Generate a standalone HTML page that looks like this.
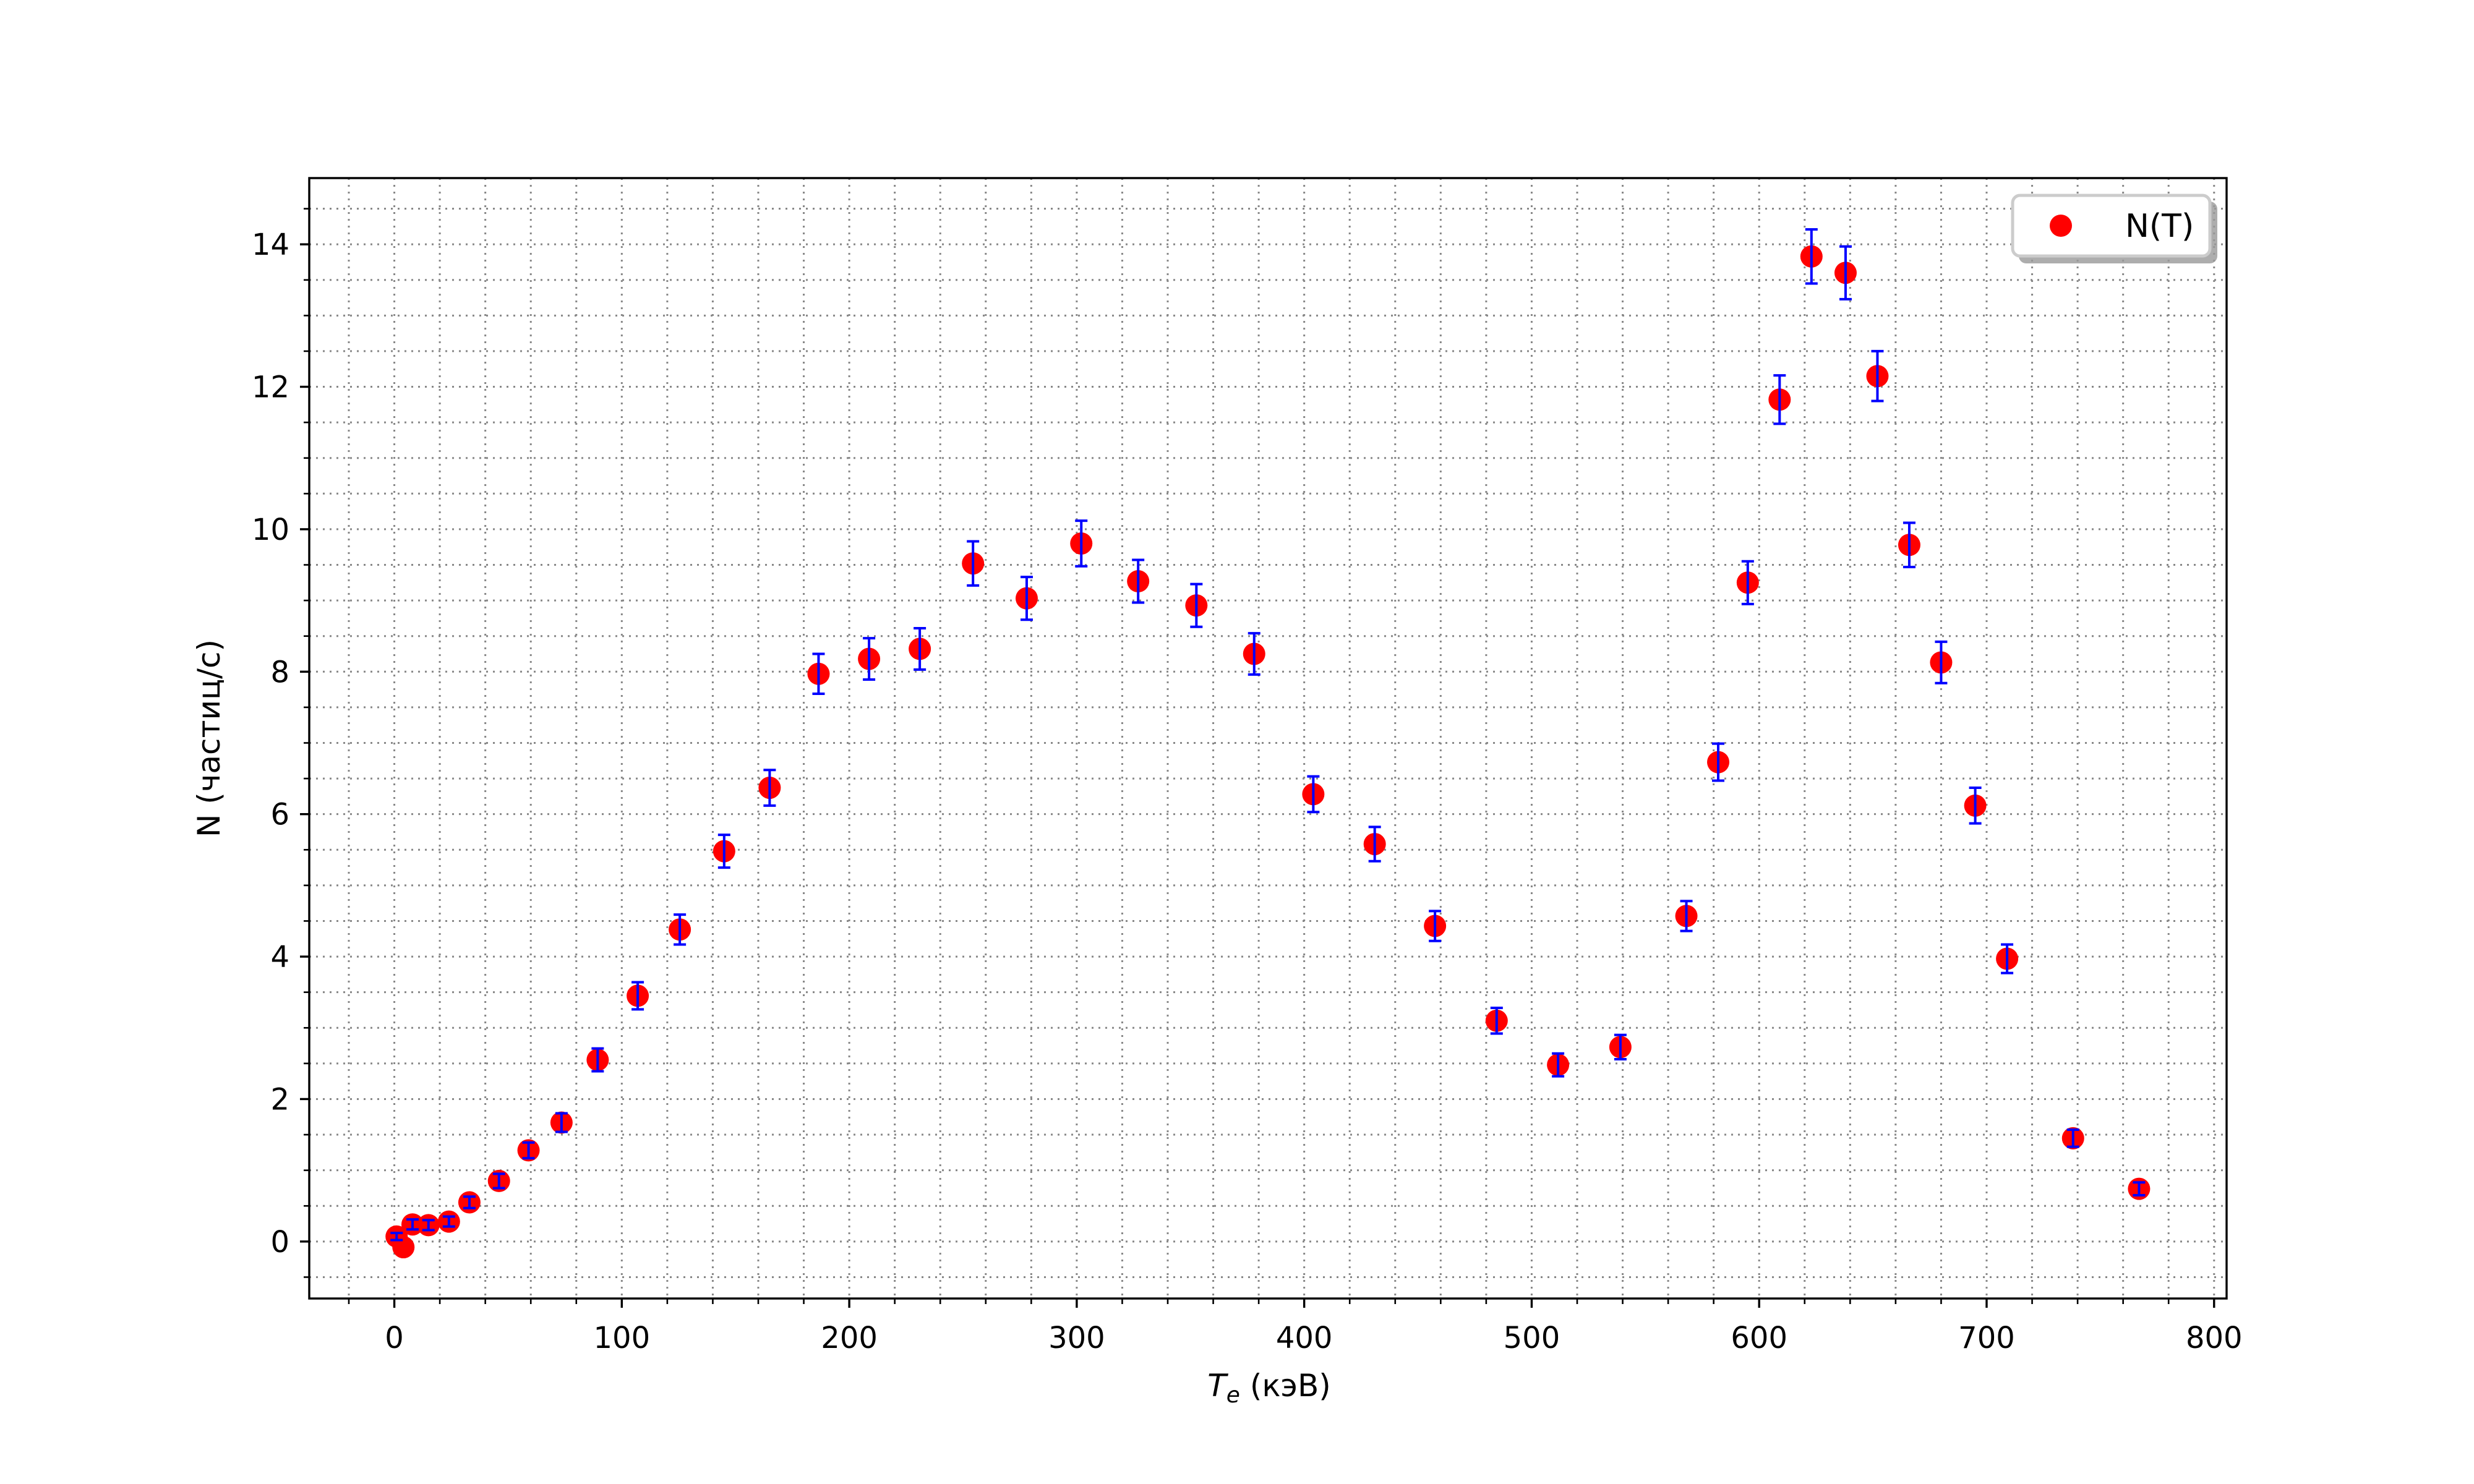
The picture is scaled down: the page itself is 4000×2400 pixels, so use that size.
<!DOCTYPE html>
<html><head><meta charset="utf-8"><style>
html,body{margin:0;padding:0;background:#fff}
svg{display:block;font-family:"DejaVu Sans","Liberation Sans",sans-serif}
</style></head><body>
<svg id="chart" width="4000" height="2400" viewBox="0 0 4000 2400" xmlns="http://www.w3.org/2000/svg">
<rect width="4000" height="2400" fill="#fff"/>
<g id="grid"></g>
<g id="ticks"></g>
<g id="points"></g>
<g id="errs"></g>
<rect x="500" y="288" width="3100" height="1812" fill="none" stroke="#000" stroke-width="3.4"/>
<text x="2052" y="2258" font-size="50" text-anchor="middle"><tspan font-style="italic">T</tspan><tspan font-style="italic" font-size="36" dy="10">e</tspan><tspan dy="-10"> (кэВ)</tspan></text>
<text transform="translate(355,1194) rotate(-90)" font-size="50" text-anchor="middle">N (частиц/с)</text>
<g>
<rect x="3264" y="326" width="321" height="100" rx="12" fill="#999" opacity="0.8"/>
<rect x="3254" y="316" width="319" height="98" rx="12" fill="#fff" stroke="#ccc" stroke-width="5"/>
<circle cx="3332" cy="365" r="18" fill="#f00"/>
<text x="3436" y="383" font-size="52">N(T)</text>
</g>
</svg>
<script>
const xVals=[1,4,8,15,24,33,46,59,73.5,89.4,107,125.5,145,165,186.5,208.7,231,254.4,278,302,327,352.6,378,404,431,457.5,484.6,511.6,539,568,582,595,609,623,638,652,666,680,695,709,738,767];
const yVals=[0.07,-0.08,0.24,0.23,0.28,0.55,0.85,1.28,1.67,2.55,3.45,4.38,5.48,6.37,7.97,8.18,8.32,9.52,9.03,9.8,9.27,8.93,8.25,6.28,5.58,4.43,3.1,2.48,2.73,4.57,6.73,9.25,11.82,13.83,13.6,12.15,9.78,8.13,6.12,3.97,1.45,0.74];
const yErr=[0.05,0,0.07,0.07,0.07,0.08,0.1,0.11,0.13,0.16,0.19,0.21,0.23,0.25,0.28,0.29,0.29,0.31,0.3,0.32,0.3,0.3,0.29,0.25,0.24,0.21,0.18,0.16,0.17,0.21,0.26,0.3,0.34,0.38,0.37,0.35,0.31,0.29,0.25,0.2,0.12,0.09];
const xTicks=[0,100,200,300,400,500,600,700,800];
const yTicks=[0,2,4,6,8,10,12,14];
const X0=-37.4,X1=805.5,Y0=-0.80,Y1=14.93,L=500,R=3600,T=288,B=2100;
const sx=v=>L+(v-X0)/(X1-X0)*(R-L);
const sy=v=>B-(v-Y0)/(Y1-Y0)*(B-T);
const NS='http://www.w3.org/2000/svg';
function mk(tag,attrs,parent){const e=document.createElementNS(NS,tag);for(const k in attrs)e.setAttribute(k,attrs[k]);parent.appendChild(e);return e;}
const grid=document.getElementById('grid'),ticks=document.getElementById('ticks'),pts=document.getElementById('points'),errs=document.getElementById('errs');
for(let v=-20;v<=800;v+=20){const x=sx(v);
 const g=mk('line',{x1:x,x2:x,y1:T,y2:B,stroke:'#888','stroke-width':3,'stroke-dasharray':'3 8'},grid);
 
 
 const major=xTicks.includes(v);
 const t=mk('line',{x1:x,x2:x,y1:B,y2:B+(major?15:9),stroke:'#000','stroke-width':major?3.4:2.6},ticks);
 
 }
for(let v=-0.5;v<=14.5;v+=0.5){const y=sy(v);
 const g=mk('line',{x1:L,x2:R,y1:y,y2:y,stroke:'#888','stroke-width':3,'stroke-dasharray':'3 8'},grid);
 
 
 const major=yTicks.includes(v);
 const t=mk('line',{x1:L,x2:L-(major?15:9),y1:y,y2:y,stroke:'#000','stroke-width':major?3.4:2.6},ticks);
 
 }
xTicks.forEach(v=>{const t=mk('text',{x:sx(v),y:2180,'font-size':48,'text-anchor':'middle'},ticks);t.textContent=v;
 
 });
yTicks.forEach(v=>{const t=mk('text',{x:468,y:sy(v)+17,'font-size':48,'text-anchor':'end'},ticks);t.textContent=v;
 
 });
xVals.forEach((xv,i)=>{const cx=sx(xv),cy=sy(yVals[i]);
 const c=mk('circle',{cx:cx,cy:cy,r:18,fill:'#f00'},pts);
 
 
 if(yErr[i]>0){const y1=sy(yVals[i]+yErr[i]),y2=sy(yVals[i]-yErr[i]);
  const g=mk('g',{stroke:'#00f','stroke-width':4},errs);
  
  
  mk('line',{x1:cx,x2:cx,y1:y1,y2:y2},g);
  mk('line',{x1:cx-10,x2:cx+10,y1:y1,y2:y1},g);
  mk('line',{x1:cx-10,x2:cx+10,y1:y2,y2:y2},g);}
});
</script>
</body></html>
